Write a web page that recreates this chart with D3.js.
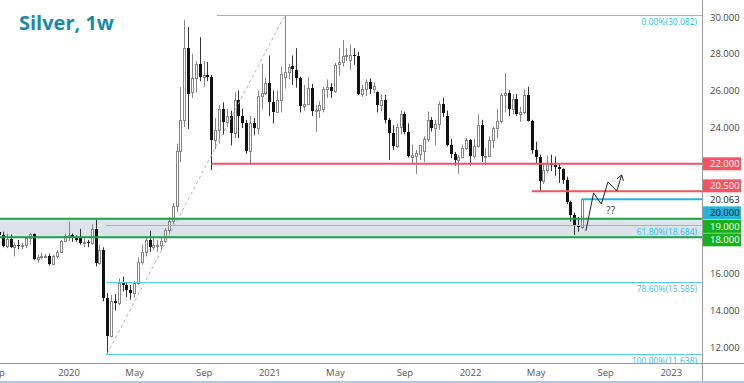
<!DOCTYPE html>
<html><head><meta charset="utf-8">
<script src="https://cdn.jsdelivr.net/npm/d3@7"></script>
<style>
html,body{margin:0;padding:0;background:#fff;}
svg{display:block;font-family:"Open Sans",sans-serif;}
</style></head><body>
<svg id="chart" width="744" height="383"></svg>
<script>
// ---------- DATA ----------
const firstWeek = "2019-09-02";
const lastWeek = "2022-07-25";
const opens = [
 18.30,18.10,17.50,17.90,17.45,17.55,17.50,17.55,17.95,18.15,16.80,16.90,16.95,16.98,16.55,16.95,17.20,17.80,
 18.05,18.10,17.95,18.00,17.70,17.75,17.70,18.45,16.60,17.30,14.70,12.60,14.50,14.40,15.50,15.40,15.10,14.95,15.50,16.66,17.20,17.85,17.45,17.55,17.60,17.80,18.40,18.90,19.70,22.70,24.40,28.30,25.90,26.70,27.45,26.75,26.85,26.75,23.30,23.85,25.00,24.30,24.60,23.70,25.50,24.60,24.20,22.70,24.20,23.95,25.70,25.85,
 26.40,25.35,24.85,25.50,26.75,27.00,27.35,27.10,26.70,25.15,25.25,26.15,24.90,24.95,25.00,26.05,26.20,25.95,27.45,27.55,27.90,27.65,27.95,27.90,25.80,26.05,26.45,26.10,25.90,25.20,25.50,24.40,23.70,22.95,24.00,24.70,23.75,22.35,22.40,22.55,22.70,23.35,24.40,23.95,24.15,25.25,24.60,23.05,22.55,22.20,22.35,22.85,
 23.30,22.40,22.95,24.10,22.40,22.45,23.30,23.95,24.35,25.75,25.85,25.00,25.55,24.70,24.85,25.75,24.35,22.75,22.35,21.05,21.65,22.05,21.95,21.80,21.70,21.10,19.90,19.20,18.65,18.55];
const highs = [
 18.75,18.30,18.20,18.15,17.70,17.85,17.70,18.00,18.25,18.20,17.05,17.15,17.10,17.10,17.05,17.30,17.85,18.20,
 18.85,18.20,18.10,18.45,17.95,17.85,18.70,18.95,17.60,17.45,14.95,14.85,14.90,15.75,15.85,15.50,15.40,15.60,16.90,17.60,18.05,18.35,17.95,17.85,18.00,18.50,19.10,19.85,23.10,26.20,29.84,29.45,28.00,27.60,28.90,27.60,27.55,26.85,24.50,25.20,25.35,25.00,24.90,25.90,26.00,25.00,24.40,24.60,24.50,26.00,27.45,26.70,
 27.90,26.00,26.00,27.30,30.08,27.45,27.90,28.30,26.75,26.30,26.70,26.35,25.20,25.40,26.20,26.60,26.40,27.50,28.30,28.75,28.30,28.50,28.30,28.10,26.30,26.60,26.65,26.45,25.95,25.80,25.75,24.50,24.10,24.20,24.90,24.85,24.20,23.05,22.75,23.00,23.50,24.85,24.55,24.40,25.40,25.60,24.90,23.35,22.65,22.50,23.05,23.40,
 23.35,23.35,24.70,24.40,22.85,23.50,24.00,25.00,25.85,26.95,26.00,25.80,25.80,25.10,26.05,26.20,24.40,23.20,22.50,22.05,22.45,22.50,22.40,22.00,21.75,21.30,20.00,19.35,19.10,20.10];
const lows = [
 17.90,17.45,17.40,17.40,16.95,17.35,17.35,17.40,17.60,16.75,16.60,16.80,16.85,16.45,16.50,16.85,17.15,17.75,
 17.80,17.75,17.75,17.60,17.45,17.45,17.60,16.40,16.50,14.50,11.64,12.55,14.00,14.30,15.05,14.75,14.60,14.70,15.40,16.50,16.95,17.20,17.30,17.20,17.30,17.70,18.20,18.70,19.40,22.10,24.00,23.90,25.60,25.90,26.50,26.20,26.50,21.65,22.80,23.10,23.60,24.00,23.00,23.40,23.40,23.95,22.55,21.95,23.55,23.60,25.00,25.75,
 24.60,24.20,24.80,24.80,26.10,26.60,26.30,26.15,24.80,24.90,25.20,24.60,23.75,24.50,24.80,25.60,25.60,25.85,26.80,27.30,27.60,27.10,27.40,25.75,25.65,25.70,25.80,25.85,24.80,24.85,24.20,22.20,22.75,22.85,23.60,23.60,22.35,21.95,21.45,22.20,22.10,23.20,23.75,23.00,23.85,24.55,22.95,22.30,21.90,21.45,22.30,22.75,
 21.90,22.30,22.90,22.10,21.95,22.40,22.85,23.40,24.20,24.80,24.60,24.70,24.60,24.30,24.70,24.30,22.55,22.00,20.45,20.90,21.50,21.60,21.35,20.95,20.90,19.80,18.85,18.12,18.30,18.45];
const closes = [
 18.10,17.50,17.90,17.45,17.55,17.50,17.55,17.95,18.15,16.80,16.90,16.95,16.98,16.55,16.95,17.20,17.80,18.05,
 18.10,17.95,17.85,17.70,17.75,17.70,18.45,16.60,17.30,14.70,12.60,14.50,14.40,15.50,15.40,15.10,14.95,15.50,16.66,17.20,17.85,17.45,17.55,17.60,17.80,18.40,18.90,19.70,22.70,24.40,28.30,25.80,26.70,27.45,26.75,26.85,26.75,23.30,23.85,25.00,24.30,24.60,23.70,25.50,24.60,24.20,22.70,24.20,23.95,25.70,25.85,26.40,
 25.35,24.85,25.50,26.90,27.00,27.30,27.15,26.70,25.15,25.25,26.15,24.90,24.95,25.20,26.05,26.20,25.95,27.40,27.55,27.90,27.95,27.95,27.90,25.80,26.05,26.45,26.10,26.25,25.20,25.50,24.40,23.70,22.95,24.00,24.70,23.75,22.45,22.50,22.60,23.00,23.35,24.40,23.95,24.15,25.25,24.75,23.05,22.55,22.20,22.35,22.85,23.30,
 22.40,22.95,24.10,22.40,22.45,23.30,23.95,24.35,25.75,25.85,25.00,25.55,24.70,24.85,25.75,24.35,22.75,22.35,21.05,21.65,22.05,21.95,21.80,21.70,21.10,19.90,19.20,18.65,18.55,20.063];

const yTickValues = [12,14,16,18,20,22,24,26,28,30];
const xTickDates = ["2019-09-02","2020-01-06","2020-05-04","2020-09-07","2021-01-04","2021-05-03","2021-09-06","2022-01-03","2022-05-02","2022-09-05","2023-01-02"];
const xTickLabels = ["Sep","2020","May","Sep","2021","May","Sep","2022","May","Sep","2023"];

const fibRatios = [0, 0.618, 0.786, 1];
const fibValues = [30.082, 18.684, 15.585, 11.638];
const fibStarts = ["2020-10-01","2020-03-14","2020-03-14","2020-03-14"];
const trendDates = ["2020-03-16","2021-02-01"];
const trendValues = [11.638, 30.082];

const levelValues = [22, 20.5, 20.063, 20, 19, 18];
const levelKinds = ["red","red","last","cyan","green","green"];
const levelStarts = ["2020-09-21","2022-04-25","2022-07-25",null,"2019-08-01","2019-08-01"];
const zoneValues = [18, 19];

const pathDates = ["2022-08-01","2022-08-15","2022-08-29","2022-09-10","2022-09-26","2022-10-05"];
const pathValues = [18.34, 20.41, 19.81, 21.01, 20.52, 21.39];
const noteText = "??";
const noteDate = "2022-09-15";
const noteValue = 19.45;
const title = "Silver, 1w";

// ---------- CHART ----------
const W = 744, H = 383, plotR = 702, plotB = 363;
const P = d3.timeParse("%Y-%m-%d");
const svg = d3.select("#chart");

let dates = d3.timeMonday.range(P(firstWeek), d3.timeDay.offset(P(lastWeek), 1));
const bars = dates.slice(0, opens.length).map((d, i) => ({d, o: opens[i], h: highs[i], l: lows[i], c: closes[i]}));

const x = d3.scaleTime().domain([P("2020-01-06"), P("2022-07-25")]).range([68.5, 582]);
const y = d3.scaleLinear().domain([12, 30]).range([347.3, 17]);

svg.append("rect").attr("width", W).attr("height", H).attr("fill", "#fff");
svg.append("defs").append("clipPath").attr("id", "plot")
  .append("rect").attr("x", 0).attr("y", 0).attr("width", plotR).attr("height", plotB);
const g = svg.append("g").attr("clip-path", "url(#plot)");

// zone
g.append("rect").attr("x", 0).attr("width", plotR)
  .attr("y", y(zoneValues[1])).attr("height", y(zoneValues[0]) - y(zoneValues[1]))
  .attr("fill", "#dce3ea");

// candles
const cg = g.append("g");
bars.forEach(b => {
  const cx = Math.round(x(b.d));
  const up = b.c >= b.o;
  const top = Math.round(y(Math.max(b.o, b.c)));
  const bot = Math.round(y(Math.min(b.o, b.c)));
  cg.append("line").attr("x1", cx + 0.5).attr("x2", cx + 0.5)
    .attr("y1", y(b.h)).attr("y2", y(b.l))
    .attr("stroke", up ? "#858585" : "#333").attr("stroke-width", 1);
  if (up) {
    cg.append("rect").attr("x", cx - 0.5).attr("y", top + 0.5)
      .attr("width", 2).attr("height", Math.max(bot - top, 1))
      .attr("fill", "#fff").attr("stroke", "#858585").attr("stroke-width", 1);
  } else {
    cg.append("rect").attr("x", cx - 1).attr("y", top)
      .attr("width", 3).attr("height", Math.max(bot - top, 1))
      .attr("fill", "#111");
  }
});

// fib trend line (dashed)
g.append("line")
  .attr("x1", x(P(trendDates[0]))).attr("y1", y(trendValues[0]))
  .attr("x2", x(P(trendDates[1]))).attr("y2", y(trendValues[1]))
  .attr("stroke", "#b0b0b0").attr("stroke-width", 1).attr("stroke-dasharray", "3,3");

// fib levels
fibValues.forEach((v, i) => {
  const yy = Math.round(y(v)) + 0.5;
  g.append("line").attr("x1", x(P(fibStarts[i]))).attr("x2", plotR)
    .attr("y1", yy).attr("y2", yy).attr("stroke", "#55d0f5").attr("stroke-width", 1);
  g.append("text").attr("x", 697).attr("y", yy + 9.5).attr("text-anchor", "end")
    .attr("font-size", 8.5).attr("fill", "#26c0ee")
    .text(`${(fibRatios[i] * 100).toFixed(2)}%(${v.toFixed(3)})`);
});

// horizontal levels
const lineColor = {red: "#f5525f", last: "#26b5de", green: "#1f9f45"};
levelValues.forEach((v, i) => {
  const k = levelKinds[i];
  if (!levelStarts[i]) return;
  const yy = y(v);
  g.append("line").attr("x1", Math.max(0, x(P(levelStarts[i])))).attr("x2", plotR)
    .attr("y1", yy).attr("y2", yy).attr("stroke", lineColor[k]).attr("stroke-width", 2);
});

// projected path
const pts = pathDates.map((d, i) => [x(P(d)), y(pathValues[i])]);
g.append("path").attr("d", d3.line()(pts)).attr("fill", "none")
  .attr("stroke", "#222").attr("stroke-width", 1);
const [ax, ay] = pts[pts.length - 1], [bx, by] = pts[pts.length - 2];
const ang = Math.atan2(ay - by, ax - bx);
[-0.6, 0.6].forEach(da => {
  g.append("line").attr("x1", ax).attr("y1", ay)
    .attr("x2", ax - 6 * Math.cos(ang + da)).attr("y2", ay - 6 * Math.sin(ang + da))
    .attr("stroke", "#222").attr("stroke-width", 1);
});
g.append("text").attr("x", x(P(noteDate))).attr("y", y(noteValue)).attr("dy", "0.35em")
  .attr("text-anchor", "middle").attr("font-size", 10).attr("fill", "#333").text(noteText);

// borders
svg.append("line").attr("x1", plotR + 0.5).attr("x2", plotR + 0.5).attr("y1", 0).attr("y2", H)
  .attr("stroke", "#9a9a9a");
svg.append("line").attr("x1", 0).attr("x2", W).attr("y1", plotB + 0.5).attr("y2", plotB + 0.5)
  .attr("stroke", "#9a9a9a");
svg.append("rect").attr("x", 0).attr("y", 381).attr("width", W).attr("height", 2).attr("fill", "#aac8ee");

// level labels with collision avoidance around last price
const anchor = levelKinds.indexOf("last");
const pos = levelValues.map(v => y(v));
const gap = 13.5;
for (let i = anchor + 1; i < pos.length; i++) pos[i] = Math.max(pos[i], pos[i - 1] + gap);
for (let i = anchor - 1; i >= 0; i--) pos[i] = Math.min(pos[i], pos[i + 1] - gap);

// y axis
const shownTicks = yTickValues.filter(t => pos.every(p => Math.abs(p - y(t)) > 9));
const yAxis = svg.append("g").attr("transform", `translate(${plotR},0)`)
  .call(d3.axisRight(y).tickValues(shownTicks).tickSize(0).tickPadding(8).tickFormat(d3.format(".3f")));
yAxis.select(".domain").remove();
yAxis.selectAll("text").attr("font-size", 9.5).attr("fill", "#444").attr("font-family", "Open Sans");

const boxFill = {red: "#f7525f", cyan: "#22b6dd", green: "#17b21b"};
const boxText = {red: "#fff", cyan: "#111", green: "#fff", last: "#222"};
levelValues.forEach((v, i) => {
  const k = levelKinds[i];
  if (boxFill[k]) {
    svg.append("rect").attr("x", 703).attr("y", pos[i] - 6.5).attr("width", 38).attr("height", 13)
      .attr("fill", boxFill[k]);
  }
  svg.append("text").attr("x", 710).attr("y", pos[i]).attr("dy", "0.35em")
    .attr("font-size", 9.5).attr("fill", boxText[k]).text(d3.format(".3f")(v));
});

// x axis
const xAxis = svg.append("g").attr("transform", `translate(0,${plotB})`)
  .call(d3.axisBottom(x).tickValues(xTickDates.map(P)).tickSize(0).tickPadding(6)
    .tickFormat((d, i) => xTickLabels[i]));
xAxis.select(".domain").remove();
xAxis.selectAll("text").attr("font-size", 9.5).attr("fill", "#555").attr("font-family", "Open Sans");
xAxis.selectAll("text").filter((d, i) => i === 0).attr("dx", -3);

// title
svg.append("text").attr("x", 19).attr("y", 30).attr("font-size", 20).attr("font-weight", 700)
  .attr("fill", "#168aa8").text(title);
</script>
</body></html>
